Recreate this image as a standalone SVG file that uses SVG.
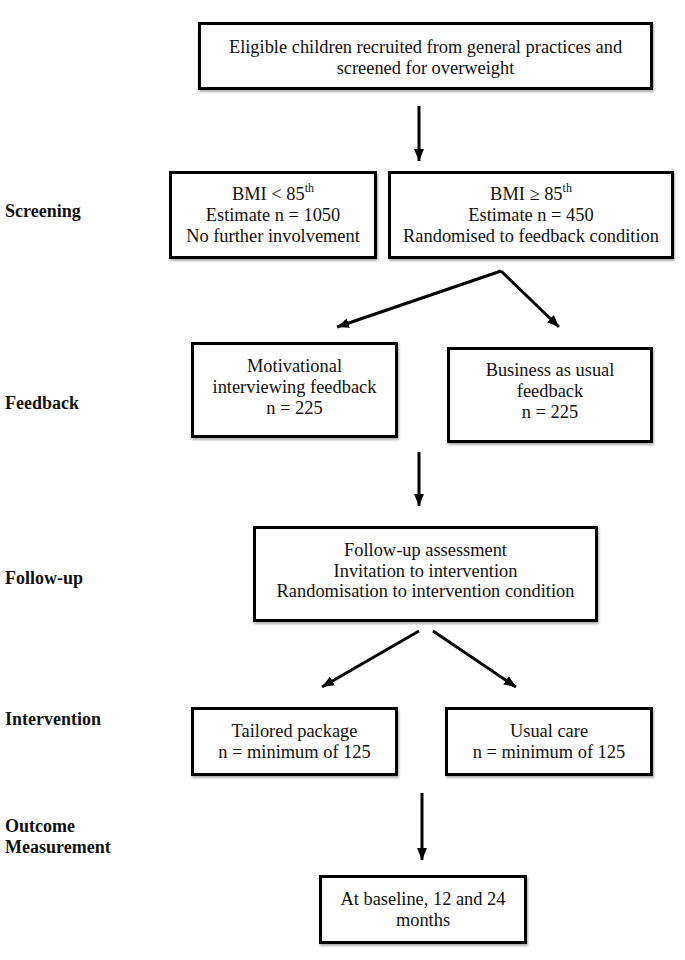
<svg xmlns="http://www.w3.org/2000/svg" width="685" height="960" viewBox="0 0 685 960">
<style>
.box{fill:#fff;stroke:#000;stroke-width:3;filter:url(#sh)}
.t{font-family:"Liberation Serif","Times New Roman",serif;font-size:18.4px;fill:#111;text-anchor:middle}
.lab{font-family:"Liberation Serif","Times New Roman",serif;font-size:18px;font-weight:bold;fill:#111}
.c{stroke:#000;stroke-width:3;fill:none;marker-end:url(#ah)}
</style>
<defs>
<filter id="sh" x="-5%" y="-5%" width="110%" height="120%">
<feDropShadow dx="1" dy="2" stdDeviation="1" flood-color="#999" flood-opacity="0.8"/>
</filter>
<marker id="ah" markerUnits="userSpaceOnUse" markerWidth="12" markerHeight="10" refX="12" refY="5" orient="auto">
<path d="M0,0 L12,5 L0,10 z" fill="#000"/>
</marker>
</defs>
<g id="labels">
<text class="lab" x="5" y="217">Screening</text>
<text class="lab" x="5" y="409">Feedback</text>
<text class="lab" x="5" y="584">Follow-up</text>
<text class="lab" x="5" y="725">Intervention</text>
<text class="lab" x="5" y="832">Outcome</text>
<text class="lab" x="5" y="853">Measurement</text>
</g>
<g id="n-eligible">
<rect class="box" x="199.5" y="23.5" width="452" height="65"/>
<text class="t" x="425.5" y="53">Eligible children recruited from general practices and</text>
<text class="t" x="425.5" y="74">screened for overweight</text>
</g>
<g id="n-bmi-low">
<rect class="box" x="170.5" y="172.5" width="205" height="85"/>
<text class="t" x="273" y="200">BMI &lt; 85<tspan font-size="12" dy="-8">th</tspan></text>
<text class="t" x="273" y="221">Estimate n = 1050</text>
<text class="t" x="273" y="242">No further involvement</text>
</g>
<g id="n-bmi-high">
<rect class="box" x="389.5" y="172.5" width="283" height="85"/>
<text class="t" x="531" y="200">BMI ≥ 85<tspan font-size="12" dy="-8">th</tspan></text>
<text class="t" x="531" y="221">Estimate n = 450</text>
<text class="t" x="531" y="242">Randomised to feedback condition</text>
</g>
<g id="n-motivational">
<rect class="box" x="192.5" y="343.5" width="204" height="93"/>
<text class="t" x="294.5" y="372">Motivational</text>
<text class="t" x="294.5" y="393">interviewing feedback</text>
<text class="t" x="294.5" y="414">n = 225</text>
</g>
<g id="n-business">
<rect class="box" x="448.5" y="348.5" width="203" height="93"/>
<text class="t" x="550" y="376">Business as usual</text>
<text class="t" x="550" y="397">feedback</text>
<text class="t" x="550" y="418">n = 225</text>
</g>
<g id="n-followup">
<rect class="box" x="254.5" y="527.5" width="342" height="93"/>
<text class="t" x="425.5" y="556">Follow-up assessment</text>
<text class="t" x="425.5" y="577">Invitation to intervention</text>
<text class="t" x="425.5" y="597">Randomisation to intervention condition</text>
</g>
<g id="n-tailored">
<rect class="box" x="192.5" y="708.5" width="204" height="66"/>
<text class="t" x="294.5" y="737">Tailored package</text>
<text class="t" x="294.5" y="758">n = minimum of 125</text>
</g>
<g id="n-usual">
<rect class="box" x="446.5" y="708.5" width="205" height="66"/>
<text class="t" x="549" y="737">Usual care</text>
<text class="t" x="549" y="758">n = minimum of 125</text>
</g>
<g id="n-outcome">
<rect class="box" x="320.5" y="876.5" width="205" height="66"/>
<text class="t" x="423" y="905">At baseline, 12 and 24</text>
<text class="t" x="423" y="926">months</text>
</g>
<g id="connectors">
<line class="c" x1="419" y1="106" x2="419" y2="161"/>
<line class="c" x1="501" y1="271" x2="337" y2="327"/>
<line class="c" x1="501" y1="271" x2="559" y2="327"/>
<line class="c" x1="419" y1="452" x2="419" y2="506"/>
<line class="c" x1="419" y1="631" x2="322" y2="687"/>
<line class="c" x1="433" y1="631" x2="516" y2="687"/>
<line class="c" x1="422" y1="793" x2="422" y2="860"/>
</g>
</svg>
